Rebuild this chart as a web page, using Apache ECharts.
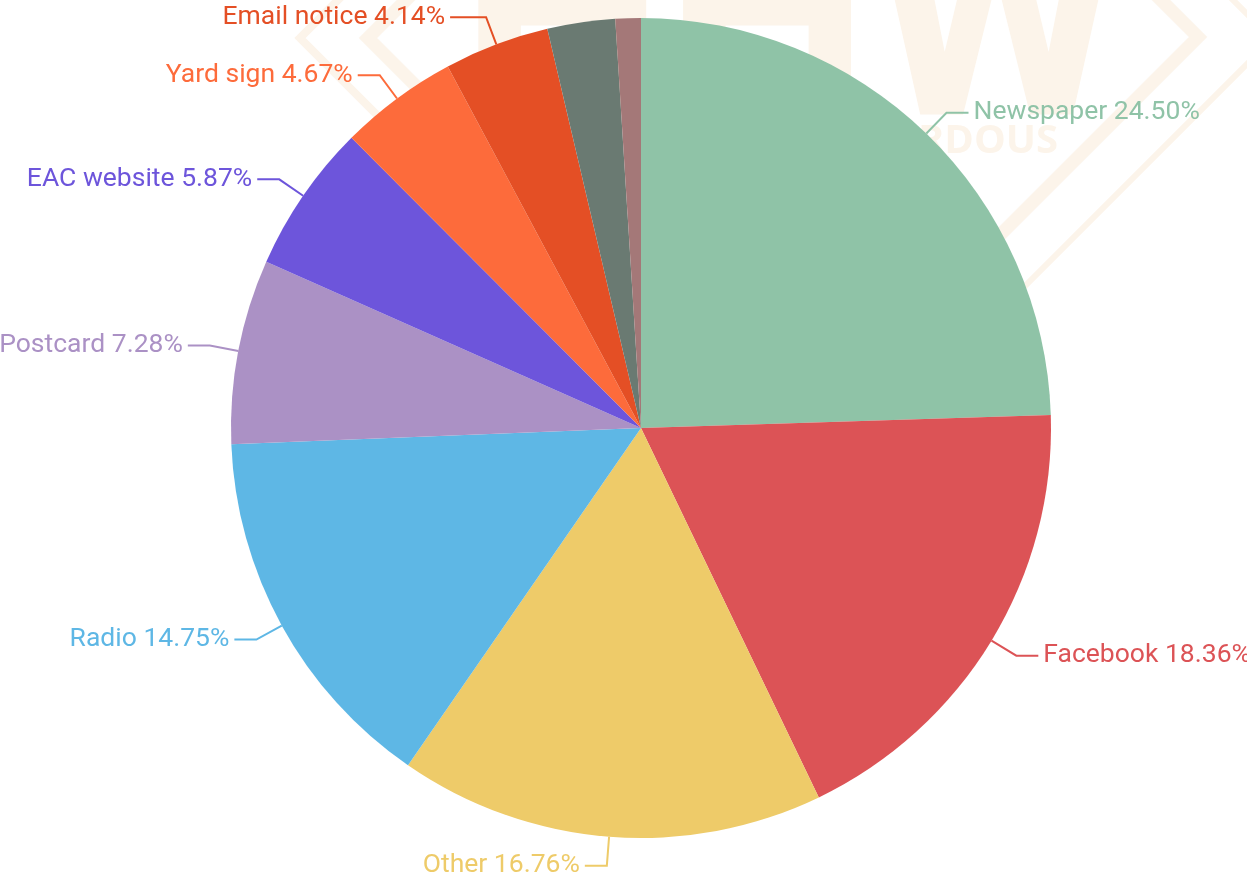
<!DOCTYPE html>
<html>
<head>
<meta charset="utf-8">
<title>Pie</title>
<script src="https://cdn.jsdelivr.net/npm/echarts@6/dist/echarts.min.js"></script>
<style>
  html, body { margin: 0; padding: 0; background: #fff; }
  #pieChart { width: 1247px; height: 882px; }
</style>
</head>
<body>
<div id="pieChart"></div>
<script>
const categories = ['Newspaper', 'Facebook', 'Other', 'Radio', 'Postcard', 'EAC website', 'Yard sign', 'Email notice', 'Unlabeled 1', 'Unlabeled 2'];
const shares = [24.50, 18.36, 16.76, 14.75, 7.28, 5.87, 4.67, 4.14, 2.67, 1.00];
const colors = ['#8fc3a7', '#dc5356', '#eecb69', '#5eb7e5', '#ab91c5', '#6d55db', '#fd6b3b', '#e44f25', '#6a7a72', '#a47878'];
const hiddenLabels = ['Unlabeled 1', 'Unlabeled 2'];

const pieChart = echarts.init(document.getElementById('pieChart'), null, { renderer: 'canvas' });

// faint logo in the background
const wm = '#fcf4ea';
const chevron = (ax, ay, dir, w) => ({
  type: 'polyline',
  z: -10,
  silent: true,
  shape: { points: [[ax - dir * 60, ay - 60], [ax, ay], [ax - dir * 380, ay + 380]] },
  style: { stroke: wm, lineWidth: w, fill: null }
});

const option = {
  backgroundColor: '#fff',
  color: colors,
  animation: false,
  graphic: [
    chevron(300, 38, -1, 8),
    chevron(368, 38, -1, 13),
    chevron(1198, 37, 1, 13),
    chevron(1272, 39, 1, 6),
    {
      type: 'text',
      z: -10,
      silent: true,
      x: 460,
      y: 42,
      style: { text: 'HHW', fill: wm, font: 'bold 290px Roboto', align: 'left', verticalAlign: 'middle' }
    },
    {
      type: 'text',
      z: -10,
      silent: true,
      x: 1058,
      y: 142,
      style: { text: 'HAZARDOUS', fill: wm, font: 'bold 40px "Open Sans"', align: 'right', verticalAlign: 'middle' }
    }
  ],
  series: [
    {
      name: 'Source',
      type: 'pie',
      center: [641, 428],
      radius: 410,
      startAngle: 90,
      clockwise: true,
      avoidLabelOverlap: true,
      itemStyle: { borderWidth: 0 },
      label: {
        show: true,
        position: 'outside',
        color: 'inherit',
        fontFamily: 'Roboto',
        fontSize: 26.5,
        overflow: 'none',
        formatter: (p) => p.name + ' ' + p.value.toFixed(2) + '%'
      },
      labelLine: {
        show: true,
        length: 29,
        length2: 22,
        smooth: false,
        lineStyle: { width: 2 }
      },
      emphasis: { disabled: true },
      data: categories.map((name, i) => {
        const item = { name: name, value: shares[i] };
        if (hiddenLabels.indexOf(name) >= 0) {
          item.label = { show: false };
          item.labelLine = { show: false };
        }
        if (name === 'Email notice') {
          item.labelLine = { length2: 36 };
        }
        return item;
      })
    }
  ]
};

pieChart.setOption(option);
</script>
</body>
</html>
